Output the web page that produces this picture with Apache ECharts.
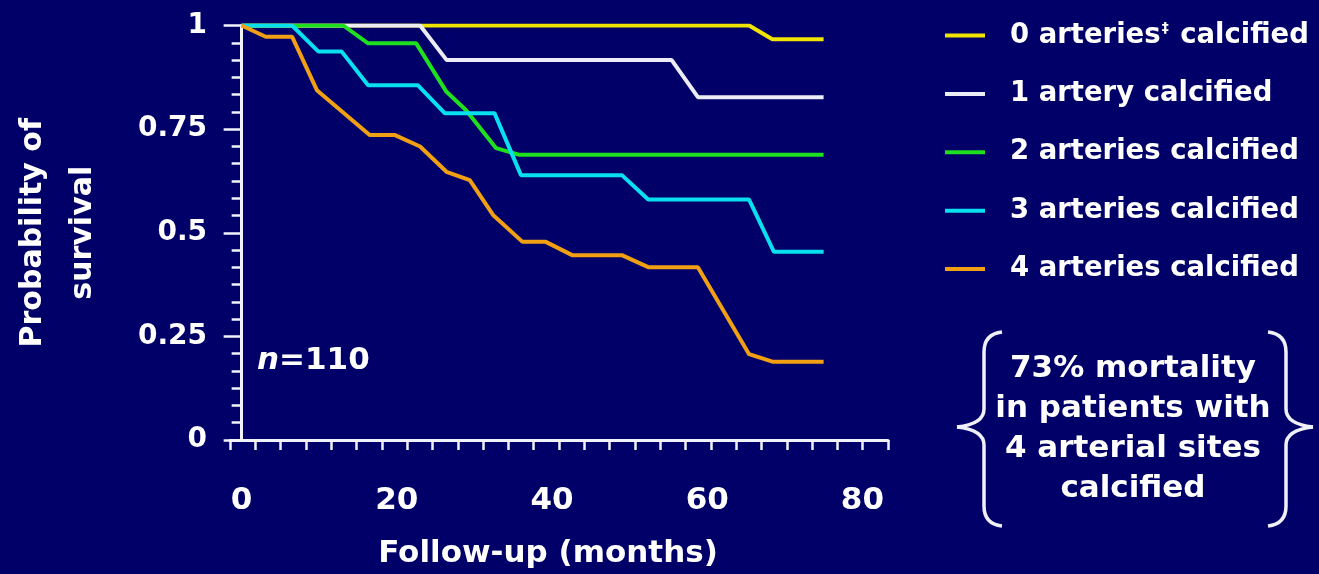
<!DOCTYPE html>
<html><head><meta charset="utf-8">
<script src="https://cdn.jsdelivr.net/npm/echarts@6/dist/echarts.min.js"></script>
<style>html,body{margin:0;padding:0;background:#000068;}#c{width:1319px;height:574px;}</style>
</head><body><div id="c"></div>
<script>
// ---- data ----
const seriesNames = ['0 arteries‡ calcified', '1 artery calcified', '2 arteries calcified', '3 arteries calcified', '4 arteries calcified'];
const calcified0 = [[0,1],[65.4,1],[68.4,0.967],[75,0.967]];
const calcified1 = [[0,1],[23,1],[26.4,0.917],[55.4,0.917],[58.8,0.827],[75,0.827]];
const calcified2 = [[0,1],[13.1,1],[16.3,0.957],[22.5,0.957],[26.4,0.840],[28.9,0.796],[32.8,0.704],[35.8,0.688],[75,0.688]];
const calcified3 = [[0,1],[6.5,1],[9.9,0.937],[12.9,0.937],[16.3,0.856],[22.7,0.856],[26.2,0.788],[32.6,0.788],[36.0,0.639],[49.0,0.639],[52.4,0.580],[65.4,0.580],[68.6,0.454],[75,0.454]];
const calcified4 = [[0,1],[3.1,0.973],[6.5,0.973],[9.7,0.844],[16.5,0.736],[19.7,0.736],[23.0,0.708],[26.4,0.647],[29.4,0.627],[32.4,0.543],[36.2,0.478],[39.2,0.478],[42.6,0.446],[49.0,0.446],[52.4,0.417],[58.8,0.417],[65.4,0.207],[68.4,0.189],[75,0.189]];
const xTickLabels = [0, 20, 40, 60, 80];
const yTickLabels = [0, 0.25, 0.5, 0.75, 1];
const xAxisTitle = 'Follow-up (months)';
const yAxisTitle = 'Probability of\nsurvival';
const sampleSize = '110';
const noteLines = ['73% mortality', 'in patients with', '4 arterial sites', 'calcified'];

// ---- styling ----
const FONT = '"DejaVu Sans", Verdana, sans-serif';
const colors = ['#f0e400', '#ececf6', '#1fe01f', '#08e0f0', '#f0a012'];
const seriesData = [calcified0, calcified1, calcified2, calcified3, calcified4];
const X_MIN = -1.5, X_MAX = 83.3;
const xTicks = [];
for (let i = 0; i <= 26; i++) xTicks.push(X_MIN + i * (X_MAX - X_MIN) / 26);

// curly brace built from bezier curves and lines
function brace(xTip, xStem, xEnd, yTop, yMid, yBot) {
  const st = {stroke: '#f0f0f8', lineWidth: 3.5, fill: null};
  const q = (x1, y1, cx, cy, x2, y2) => ({type: 'bezierCurve', shape: {x1, y1, cpx1: cx, cpy1: cy, x2, y2}, style: st});
  const l = (x1, y1, x2, y2) => ({type: 'line', shape: {x1, y1, x2, y2}, style: st});
  return [
    q(xEnd, yTop, xStem, yTop + 2, xStem, yTop + 20),
    l(xStem, yTop + 20, xStem, yMid - 18),
    q(xStem, yMid - 18, xStem, yMid - 3, xTip, yMid),
    q(xTip, yMid, xStem, yMid + 3, xStem, yMid + 18),
    l(xStem, yMid + 18, xStem, yBot - 20),
    q(xStem, yBot - 20, xStem, yBot - 2, xEnd, yBot)
  ];
}

const chart = echarts.init(document.getElementById('c'), null, {renderer: 'canvas'});
const axisColor = '#f2f2fa';
chart.setOption({
  backgroundColor: '#000068',
  animation: false,
  grid: {left: 226, right: 431, top: 25.5, bottom: 134},
  legend: {
    orient: 'vertical', left: 945, top: 20.5, padding: 0, itemWidth: 40, itemHeight: 4, itemGap: 28.4,
    icon: 'rect', selectedMode: false,
    data: seriesNames,
    formatter: n => n.replace('‡', '{sup|‡}'),
    textStyle: {
      color: '#ffffff', fontSize: 27.5, fontWeight: 'bold', fontFamily: FONT, lineHeight: 30,
      padding: [0, 0, 0, 20],
      rich: {sup: {color: '#ffffff', fontSize: 14, fontWeight: 'bold', fontFamily: FONT, padding: [0, 2, 14, 1]}}
    }
  },
  xAxis: {
    type: 'value', min: X_MIN, max: X_MAX,
    axisLine: {show: true, lineStyle: {color: axisColor, width: 3}},
    axisTick: {show: true, customValues: xTicks, length: 10, lineStyle: {color: axisColor, width: 2.5}},
    axisLabel: {customValues: xTickLabels, color: '#ffffff', fontSize: 31, fontWeight: 'bold', fontFamily: FONT, margin: 45},
    splitLine: {show: false},
    name: xAxisTitle, nameLocation: 'middle', nameGap: 98,
    nameTextStyle: {color: '#ffffff', fontSize: 31, fontWeight: 'bold', fontFamily: FONT, padding: [0, 22, 0, 0]}
  },
  yAxis: {
    type: 'value', min: 0, max: 1, interval: 0.25,
    axisLine: {show: true, lineStyle: {color: axisColor, width: 3}},
    axisTick: {show: true, length: 18, lineStyle: {color: axisColor, width: 2.5}},
    minorTick: {show: true, splitNumber: 6, length: 10, lineStyle: {color: axisColor, width: 2.5}},
    axisLabel: {color: '#ffffff', fontSize: 28, fontWeight: 'bold', fontFamily: FONT, margin: 23,
      formatter: v => (yTickLabels.indexOf(v) >= 0 ? String(v) : '')},
    splitLine: {show: false}, minorSplitLine: {show: false},
    name: yAxisTitle, nameLocation: 'middle', nameGap: 122, nameRotate: 90,
    nameTextStyle: {color: '#ffffff', fontSize: 30, fontWeight: 'bold', fontFamily: FONT, lineHeight: 50, align: 'center'}
  },
  series: seriesNames.map((n, i) => ({
    name: n, type: 'line', data: seriesData[i], showSymbol: false, symbol: 'none',
    color: colors[i], lineStyle: {color: colors[i], width: 4}, z: 2 + i
  })),
  graphic: [
    {type: 'text', style: {
      text: '{i|n}{r|=' + sampleSize + '}', x: 257, y: 361, verticalAlign: 'middle',
      rich: {
        i: {fill: '#ffffff', fontSize: 31, fontWeight: 'bold', fontStyle: 'italic', fontFamily: FONT},
        r: {fill: '#ffffff', fontSize: 31, fontWeight: 'bold', fontFamily: FONT}
      }}},
    {type: 'text', style: {
      text: noteLines.join('\n'), x: 1133, y: 429, align: 'center', verticalAlign: 'middle',
      fill: '#ffffff', fontSize: 31, fontWeight: 'bold', fontFamily: FONT, lineHeight: 40}},
    {type: 'group', children: brace(957, 984, 1002, 332, 427, 526)},
    {type: 'group', children: brace(1313, 1286, 1268, 332, 427, 526)}
  ]
});
</script>
</body></html>
